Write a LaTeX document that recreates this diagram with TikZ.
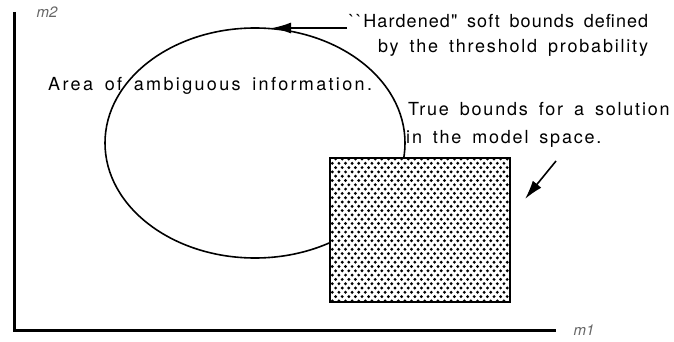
\documentclass[tikz,border=0pt]{standalone}
\usepackage{fontspec}
\setmainfont{TeX Gyre Heros}
\newfontfamily\labfont[LetterSpace=10,WordSpace=1.6]{TeX Gyre Heros}
\usetikzlibrary{arrows.meta,shapes.geometric}

\begin{document}
\begin{tikzpicture}[x=1pt,y=-1pt,
  axisline/.style={line width=3pt},
  curve/.style={line width=1.6pt},
  note/.style={font=\labfont\fontsize{18}{22}\selectfont, anchor=base west, inner sep=0pt},
  axislabel/.style={font=\itshape\fontsize{15}{18}\selectfont, text=black!60, inner sep=0pt},
  pointer/.style={line width=1.6pt, -{Latex[length=19pt,width=11pt]}},
  dot/.style={fill=black}]
\useasboundingbox (0,0) rectangle (674,342);

% axes
\coordinate (ytop) at (14,12);
\coordinate (origin) at (14,330);
\coordinate (xend) at (556,330);
\draw[axisline] (ytop) -- (origin) -- (xend);
\node[axislabel] (m2) at (47,12) {m2};
\node[axislabel] (m1) at (584,330) {m1};

% soft bounds
\node[ellipse, draw, curve, minimum width=300pt, minimum height=230pt, inner sep=0pt] (amb) at (255,143) {};

% true bounds: halftone box
\coordinate (boxnw) at (330,158);
\coordinate (boxse) at (510,302);
\fill[white] (boxnw) rectangle (boxse);
\begin{scope}
  \clip (boxnw) rectangle (boxse);
  \foreach \j in {0,...,34} {
    \foreach \i in {0,...,28} {
      \fill[dot] ({329+\i*6.6+mod(\j,2)*3.3},{159+\j*4.3}) circle (1.6pt);
    }
  }
\end{scope}
\node[draw, line width=2pt, minimum width=180pt, minimum height=144pt, inner sep=0pt] (truebox) at (420,230) {};

% labels
\node[note] (hard1) at (349,28) {\addfontfeatures{LetterSpace=6}{`}{`}Hardened" soft bounds defined};
\node[note] (hard2) at (378,53) {by the threshold probability};
\node[note] (area) at (48,91) {\addfontfeatures{LetterSpace=13}Area of ambiguous information.};
\node[note] (true1) at (408,116) {True bounds for a solution};
\node[note] (true2) at (406,143) {in the model space.};

% pointers
\coordinate (hardtail) at (347,28);
\coordinate (hardtip) at (272,28);
\draw[pointer] (hardtail) -- (hardtip);
\coordinate (boxtail) at (556,161);
\coordinate (boxtip) at (525,199);
\draw[pointer] (boxtail) -- (boxtip);
\end{tikzpicture}
\end{document}
